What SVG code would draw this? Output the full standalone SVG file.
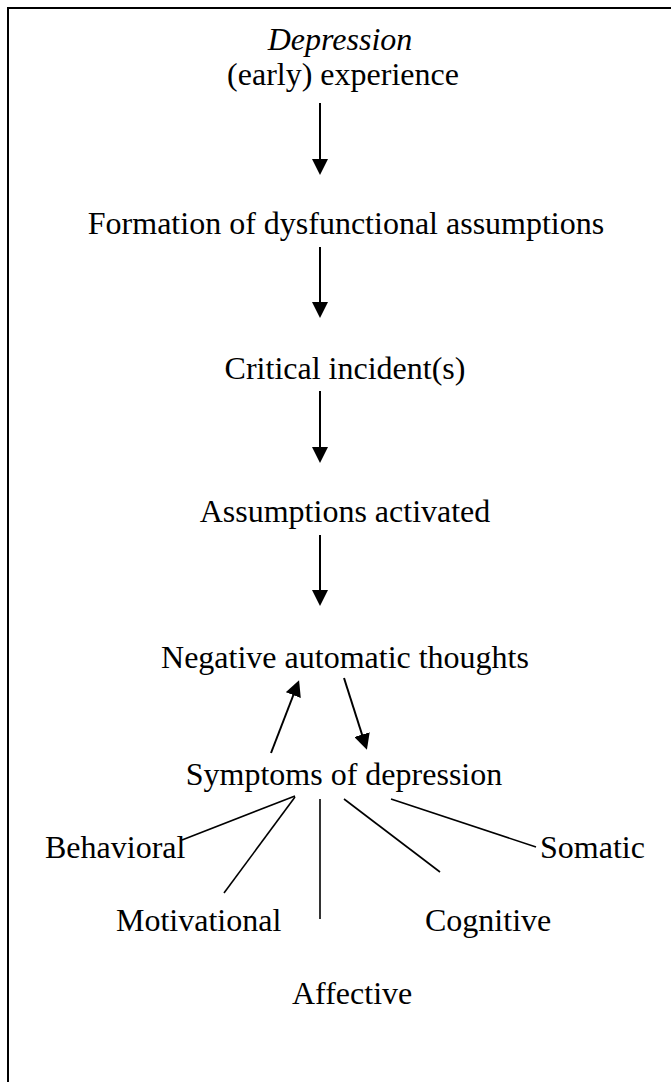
<svg xmlns="http://www.w3.org/2000/svg" width="671" height="1082" viewBox="0 0 671 1082">
<defs>
<style>
text{font-family:"Liberation Serif","Times New Roman",serif;font-size:32px;fill:#000}
.c{text-anchor:middle}
.ln{stroke:#000;stroke-width:2;fill:none}
.thin{stroke:#000;stroke-width:1.6;fill:none}
</style>
<marker id="ah" markerUnits="userSpaceOnUse" markerWidth="16" markerHeight="16" viewBox="0 0 16 16" refX="13" refY="8" orient="auto">
<path d="M0,0 L16,8 L0,16 z" fill="#000"/>
</marker>
</defs>
<rect width="671" height="1082" fill="#fff"/>
<g id="frame">
<line class="ln" x1="7" y1="8" x2="671" y2="8"/>
<line class="ln" x1="8" y1="7" x2="8" y2="1082"/>
</g>
<g id="n-depression"><text class="c" x="340" y="50" font-style="italic">Depression</text></g>
<g id="n-early"><text class="c" x="343" y="85">(early) experience</text></g>
<g id="n-formation"><text class="c" x="346" y="234">Formation of dysfunctional assumptions</text></g>
<g id="n-critical"><text class="c" x="345" y="379">Critical incident(s)</text></g>
<g id="n-assumptions"><text class="c" x="345" y="522">Assumptions activated</text></g>
<g id="n-nat"><text class="c" x="345" y="668">Negative automatic thoughts</text></g>
<g id="n-symptoms"><text class="c" x="344" y="785">Symptoms of depression</text></g>
<g id="n-behavioral"><text x="45" y="858">Behavioral</text></g>
<g id="n-somatic"><text x="540" y="858">Somatic</text></g>
<g id="n-motivational"><text x="116" y="931">Motivational</text></g>
<g id="n-cognitive"><text x="425" y="931">Cognitive</text></g>
<g id="n-affective"><text x="292" y="1004">Affective</text></g>
<g id="connectors">
<line class="ln" x1="320" y1="103" x2="320" y2="172" marker-end="url(#ah)"/>
<line class="ln" x1="320" y1="247" x2="320" y2="315" marker-end="url(#ah)"/>
<line class="ln" x1="320" y1="391" x2="320" y2="460" marker-end="url(#ah)"/>
<line class="ln" x1="320" y1="535" x2="320" y2="603" marker-end="url(#ah)"/>
<line class="ln" x1="271" y1="753" x2="298" y2="683" marker-end="url(#ah)"/>
<line class="ln" x1="344" y1="678" x2="366" y2="747" marker-end="url(#ah)"/>
<line class="thin" x1="295" y1="796" x2="182" y2="840"/>
<line class="thin" x1="295" y1="797" x2="224" y2="893"/>
<line class="thin" x1="320" y1="799" x2="320" y2="919"/>
<line class="thin" x1="344" y1="799" x2="440" y2="872"/>
<line class="thin" x1="391" y1="799" x2="536" y2="847"/>
</g>
</svg>
